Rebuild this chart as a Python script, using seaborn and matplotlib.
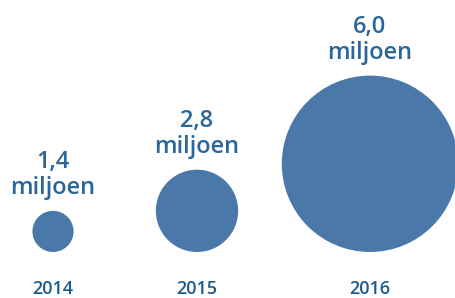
import matplotlib
matplotlib.use("Agg")
import matplotlib.pyplot as plt
import seaborn as sns
import pandas as pd

# Data
years = ["2014", "2015", "2016"]
values = [1.4, 2.8, 6.0]  # miljoen
value_labels = ["1,4", "2,8", "6,0"]

# Layout (pixel units, figure is 456x298 at dpi 100)
x_pos = [53, 197, 370]
baseline = 46          # bottom of the circles, from the bottom edge
px_per_unit = 14.7     # circle radius in px per miljoen
dpi = 100

circle_color = "#4a78a8"
text_color = "#2a669a"
year_color = "#1d5a8c"

sns.set_theme(style="white")
plt.rcParams["font.family"] = ["Open Sans", "DejaVu Sans"]

df = pd.DataFrame({"year": years, "value": values, "x": x_pos})
df["radius"] = df["value"] * px_per_unit
df["y"] = baseline + df["radius"]
# marker area in points^2 (diameter px -> points)
size_map = {v: (2 * v * px_per_unit * 72 / dpi) ** 2 for v in values}

fig = plt.figure(figsize=(4.56, 2.98), dpi=dpi)
ax = fig.add_axes([0, 0, 1, 1])

sns.scatterplot(data=df, x="x", y="y", size="value", sizes=size_map,
                color=circle_color, linewidth=0, legend=False, ax=ax, clip_on=True)

for _, row in df.iterrows():
    lbl = value_labels[years.index(row["year"])]
    ax.text(row["x"], row["y"] + row["radius"] + 11, f"{lbl}\nmiljoen",
            ha="center", va="bottom", fontsize=17, fontweight="semibold",
            color=text_color, linespacing=1.08)
    ax.text(row["x"], 9, row["year"], ha="center", va="center",
            fontsize=13, fontweight="semibold", color=year_color)

ax.set_xlim(0, 456)
ax.set_ylim(0, 298)
ax.set_aspect("auto")
ax.axis("off")

fig.savefig("out.png", dpi=dpi)
